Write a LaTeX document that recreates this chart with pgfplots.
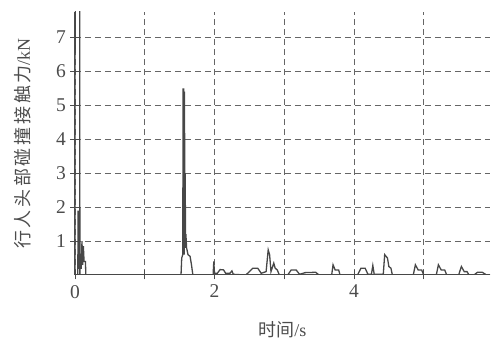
\documentclass[border=0pt]{standalone}
\usepackage{pgfplots}
\pgfplotsset{compat=1.18}
\usepackage{fontspec}
\setmainfont{Liberation Serif}
\newfontfamily\cjk{Noto Sans CJK SC}
\newfontfamily\cjkls[LetterSpace=15]{Noto Sans CJK SC}
\begin{document}
\begin{tikzpicture}
\begin{axis}[
  name=ax,
  at={(0pt,0pt)}, anchor=south west,
  scale only axis,
  width=415pt, height=263pt,
  xmin=0, xmax=5.95, ymin=0, ymax=7.75,
  axis x line=bottom, axis y line=left,
  axis line style={-, line width=1pt, black!70},
  xtick={0,1,2,3,4,5}, xticklabels={0,,2,,4,},
  ytick={1,2,3,4,5,6,7},
  tick align=center, major tick length=9pt,
  tick style={black!70, line width=0.9pt},
  grid=major,
  grid style={dash pattern=on 6pt off 4pt, black!60, line width=0.7pt},
  tick label style={font=\rmfamily\fontsize{19.5}{21}\selectfont, text=black!70},
  yticklabel style={xshift=-1pt},
  xticklabel style={yshift=-2pt},
  /pgf/number format/assume math mode=true,
  xlabel={{\cjk 时间}/s},
  ylabel={{\cjkls 行人头部碰撞接触力}/kN},
  label style={font=\rmfamily\fontsize{18}{20}\selectfont, text=black!70},
  xlabel style={at={(axis description cs:0.5,0)}, anchor=center, yshift=-55pt},
  ylabel style={at={(axis description cs:0,0.5)}, anchor=center, yshift=52pt},
  clip=true,
]
\addplot[black!72, line width=1.3pt] coordinates {
(0,0) (0.002,9) (0.068,9) (0.07,0)
(0.04,0) (0.045,1.9) (0.05,0.2) (0.055,1.0) (0.06,0.2) (0.09,0.2) (0.1,1.0) (0.11,0.3) (0.12,0.85) (0.13,0.4) (0.15,0.4) (0.155,0)
(1.52,0) (1.53,0.5) (1.545,0.6) (1.55,5.5) (1.555,0.6) (1.56,5.5) (1.565,0.6) (1.57,5.4) (1.575,1.0) (1.58,3.0) (1.585,0.8) (1.59,1.2) (1.60,0.8) (1.62,0.6) (1.65,0.55) (1.67,0.3) (1.69,0)
(1.98,0) (1.99,0.4) (2.0,0.05) (2.04,0.05) (2.08,0.16) (2.13,0.15) (2.16,0.05) (2.22,0.05) (2.25,0.12) (2.27,0.02)
(2.45,0) (2.5,0.1) (2.55,0.2) (2.62,0.2) (2.67,0.05) (2.74,0.1) (2.77,0.74) (2.79,0.6) (2.81,0.1) (2.85,0.35) (2.87,0.2) (2.9,0.15) (2.93,0)
(3.05,0) (3.1,0.15) (3.17,0.15) (3.22,0.02) (3.3,0.07) (3.45,0.08) (3.5,0)
(3.68,0) (3.7,0.3) (3.73,0.15) (3.78,0.15) (3.8,0)
(4.05,0) (4.1,0.2) (4.16,0.2) (4.2,0.02) (4.25,0.02) (4.27,0.28) (4.29,0.02) (4.42,0.02) (4.44,0.6) (4.48,0.5) (4.5,0.25) (4.53,0.2) (4.55,0)
(4.85,0) (4.88,0.3) (4.92,0.15) (4.97,0.15) (5.0,0)
(5.18,0) (5.21,0.3) (5.25,0.15) (5.3,0.15) (5.33,0)
(5.5,0) (5.54,0.25) (5.58,0.1) (5.62,0.1) (5.65,0)
(5.72,0) (5.77,0.08) (5.84,0.08) (5.9,0) (5.95,0)
};
\end{axis}
\pgfresetboundingbox
\path[use as bounding box] (-75pt,-68pt) rectangle (416pt,275pt);
\end{tikzpicture}
\end{document}
